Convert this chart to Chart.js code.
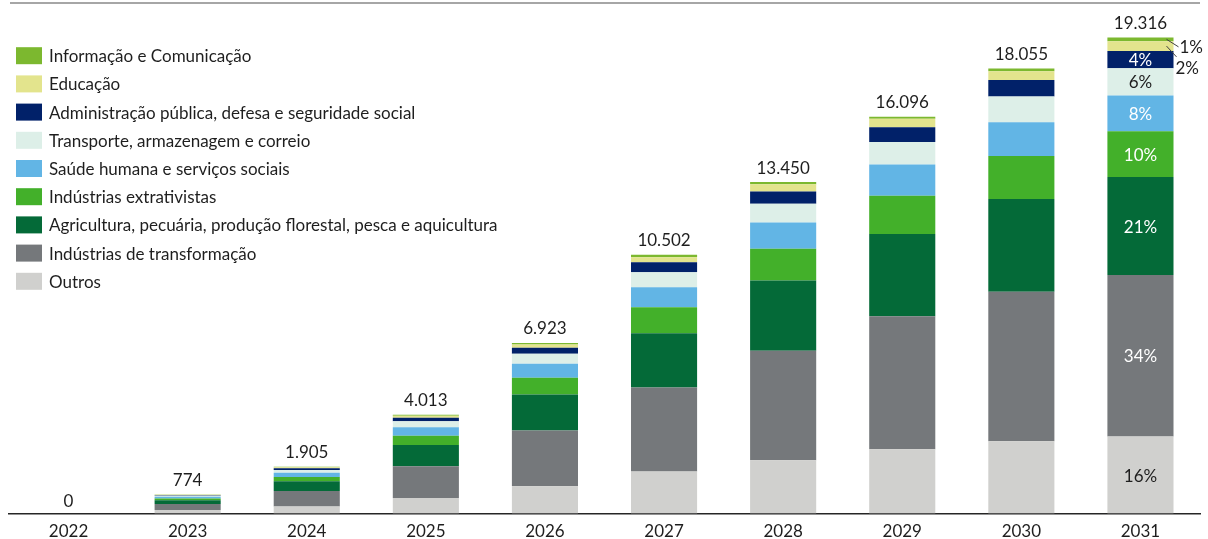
<!DOCTYPE html>
<html lang="pt-BR">
<head>
<meta charset="UTF-8">
<title>Empregos por setor</title>
<style>
    html, body { margin: 0; padding: 0; background: #fff; overflow: hidden; }
    #wrap { width: 1208px; height: 550px; position: relative; }
</style>
</head>
<body>
<div id="wrap"><canvas id="chart"></canvas></div>
<script src="https://cdn.jsdelivr.net/npm/chart.js@4/dist/chart.umd.min.js"></script>
<script>
    'use strict';
    // anos (eixo x)
    var years = ['2022', '2023', '2024', '2025', '2026', '2027', '2028', '2029', '2030', '2031'];

    // valores por setor
    var outros        = [0, 141, 290,  637, 1112, 1706, 2163, 2613, 2939, 3130];
    var transformacao = [0, 250, 625, 1286, 2255, 3414, 4444, 5396, 6061, 6546];
    var agricultura   = [0, 150, 400,  855, 1465, 2195, 2846, 3337, 3767, 3980];
    var extrativistas = [0,  70, 165,  383,  680, 1057, 1289, 1547, 1737, 1860];
    var saude         = [0,  70, 180,  338,  570,  813, 1069, 1274, 1371, 1450];
    var transporte    = [0,  40, 110,  244,  407,  610,  760,  912, 1041, 1100];
    var administracao = [0,  25,  70,  150,  244,  406,  500,  594,  679,  700];
    var educacao      = [0,  20,  45,   80,  130,  203,  285,  342,  354,  400];
    var informacao    = [0,   8,  20,   40,   60,   98,   94,   81,  106,  150];

    // totais no topo das barras
    var totals = [0, 774, 1905, 4013, 6923, 10502, 13450, 16096, 18055, 19316];

    var FONT = 'Lato, "Open Sans", sans-serif';
    var TEXT = '#1e1e1e';

    // de baixo para cima
    var series = [
        {label: 'Outros', data: outros, color: '#d0d0ce', text: TEXT},
        {label: 'Indústrias de transformação', data: transformacao, color: '#75787b', text: '#fff'},
        {label: 'Agricultura, pecuária, produção florestal, pesca e aquicultura', data: agricultura, color: '#046a38', text: '#fff'},
        {label: 'Indústrias extrativistas', data: extrativistas, color: '#43b02a', text: '#fff'},
        {label: 'Saúde humana e serviços sociais', data: saude, color: '#62b5e5', text: '#fff'},
        {label: 'Transporte, armazenagem e correio', data: transporte, color: '#ddefe8', text: TEXT},
        {label: 'Administração pública, defesa e seguridade social', data: administracao, color: '#012169', text: '#fff'},
        {label: 'Educação', data: educacao, color: '#e3e48d', text: TEXT},
        {label: 'Informação e Comunicação', data: informacao, color: '#7cb82f', text: TEXT}
    ];

    function fmt(n) {
        return String(n).replace(/\B(?=(\d{3})+(?!\d))/g, '.');
    }

    // linha cinza no topo + legenda à esquerda
    var decorPlugin = {
        id: 'decor',
        afterDraw: function (chart) {
            var c = chart.ctx;
            c.save();
            c.strokeStyle = '#a6a6a6';
            c.lineWidth = 2;
            c.beginPath();
            c.moveTo(10, 3);
            c.lineTo(1200, 3);
            c.stroke();

            c.font = '17px ' + FONT;
            c.textBaseline = 'middle';
            c.textAlign = 'left';
            var ds = chart.data.datasets;
            for (var i = ds.length - 1, row = 0; i >= 0; i--, row++) {
                var y = 55.7 + row * 28.2;
                c.fillStyle = ds[i].backgroundColor;
                c.fillRect(16, y - 8.5, 26, 17);
                c.fillStyle = TEXT;
                c.fillText(ds[i].label, 49, y + 1);
            }
            c.restore();
        }
    };

    // totais e percentuais do último ano
    var labelPlugin = {
        id: 'labels',
        afterDatasetsDraw: function (chart) {
            var c = chart.ctx;
            var ds = chart.data.datasets;
            var topMeta = chart.getDatasetMeta(ds.length - 1);
            var last = years.length - 1;
            c.save();
            c.font = '17px ' + FONT;
            c.textAlign = 'center';
            c.textBaseline = 'middle';
            c.fillStyle = TEXT;
            for (var j = 0; j < years.length; j++) {
                var bar = topMeta.data[j];
                c.fillText(fmt(totals[j]), bar.x, bar.y - (totals[j] ? 14 : 12));
            }

            for (var i = 0; i < ds.length; i++) {
                var el = chart.getDatasetMeta(i).data[last];
                var pct = Math.round(ds[i].data[last] / totals[last] * 100) + '%';
                if (el.base - el.y > 14) {
                    c.fillStyle = series[i].text;
                    c.fillText(pct, el.x, (el.y + el.base) / 2 + 1);
                }
            }
            // pequenos segmentos: rótulo fora com linha guia
            var top = topMeta.data[last];
            var small = [
                {i: ds.length - 1, ly: top.y + 10.5, lx: 6, ey: top.y + 9.4, ex: 5},
                {i: ds.length - 2, ly: top.y + 31, lx: 2, ey: top.y + 19.4, ex: 3}
            ];
            c.strokeStyle = '#404040';
            c.lineWidth = 1;
            c.textAlign = 'left';
            small.forEach(function (s) {
                var el = chart.getDatasetMeta(s.i).data[last];
                var right = el.x + el.width / 2;
                var mid = (el.y + el.base) / 2;
                c.beginPath();
                c.moveTo(right - 7, mid);
                c.lineTo(right + s.ex, s.ey);
                c.stroke();
                c.fillStyle = TEXT;
                c.fillText(Math.round(ds[s.i].data[last] / totals[last] * 100) + '%', right + s.lx, s.ly);
            });
            c.restore();
        }
    };

    var chart = new Chart(document.getElementById('chart'), {
        type: 'bar',
        data: {
            labels: years,
            datasets: series.map(function (s) {
                return {
                    label: s.label,
                    data: s.data,
                    backgroundColor: s.color,
                    borderWidth: 0,
                    categoryPercentage: 1,
                    barPercentage: 0.555
                };
            })
        },
        options: {
            responsive: true,
            maintainAspectRatio: false,
            animation: false,
            layout: {padding: {top: 20.6, left: 9, right: 8, bottom: 0}},
            plugins: {legend: {display: false}, tooltip: {enabled: false}},
            scales: {
                x: {
                    stacked: true,
                    grid: {display: false, drawTicks: false},
                    border: {display: true, color: '#262626', width: 1.5},
                    ticks: {color: TEXT, font: {family: FONT, size: 17}, padding: 8}
                },
                y: {
                    stacked: true,
                    display: false,
                    min: 0,
                    max: 20000
                }
            }
        },
        plugins: [decorPlugin, labelPlugin]
    });
</script>
</body>
</html>
